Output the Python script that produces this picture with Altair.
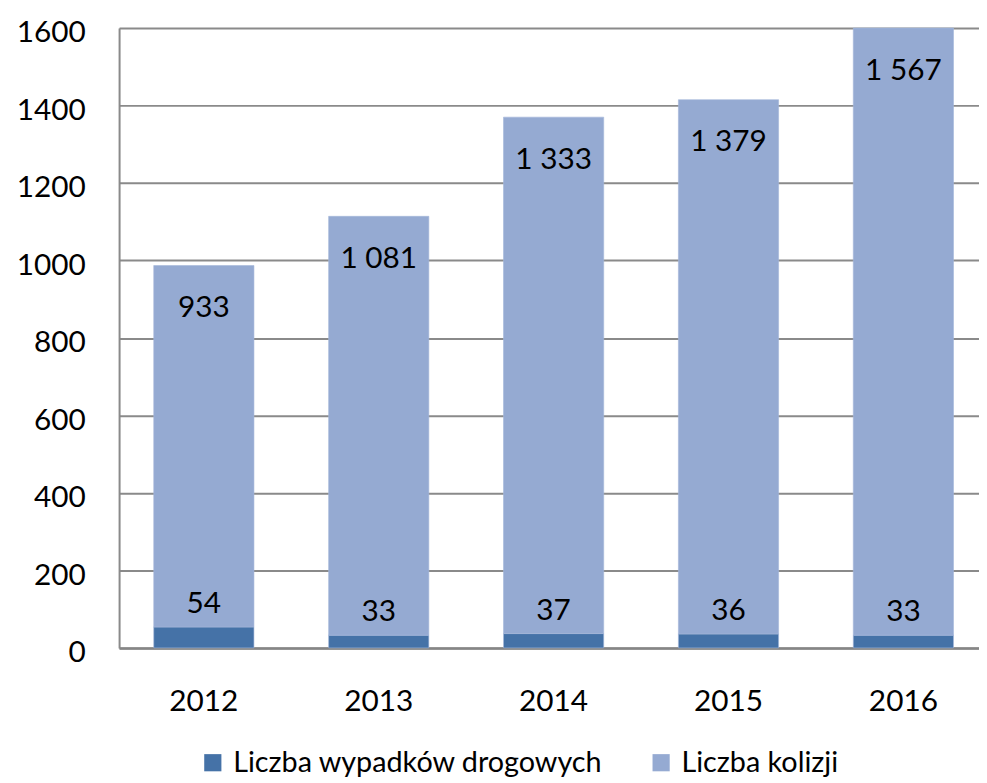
import altair as alt
import pandas as pd

years = ["2012", "2013", "2014", "2015", "2016"]
wypadki = [54, 33, 37, 36, 33]
kolizje = [933, 1081, 1333, 1379, 1567]
series_names = ["Liczba wypadków drogowych", "Liczba kolizji"]
series_colors = ["#4572A7", "#95AAD2"]

FONT = "Lato"
FS = 30


def fmt(v):
    return f"{v:,}".replace(",", " ")


long_rows = []
for y, w, k in zip(years, wypadki, kolizje):
    long_rows.append({"rok": y, "seria": series_names[0], "wartosc": w, "kolejnosc": 0})
    long_rows.append({"rok": y, "seria": series_names[1], "wartosc": k, "kolejnosc": 1})
long_df = pd.DataFrame(long_rows)

wide_df = pd.DataFrame({
    "rok": years,
    "wypadki": wypadki,
    "kolizje": kolizje,
    "suma": [w + k for w, k in zip(wypadki, kolizje)],
    "lab_w": [fmt(v) for v in wypadki],
    "lab_k": [fmt(v) for v in kolizje],
})

xscale = alt.Scale(domain=years, paddingInner=0.427, paddingOuter=0.172, align=0.576)
yscale = alt.Scale(domain=[0, 1600], nice=False)

x_enc = alt.X(
    "rok:N",
    scale=xscale,
    axis=alt.Axis(
        title=None, labelAngle=0, ticks=False, labelPadding=39,
        labelFont=FONT, labelFontSize=FS, labelColor="#000000",
        domainColor="#868686", domainWidth=2.5, grid=False,
    ),
)

bars = alt.Chart(long_df).mark_bar(stroke="#A3B6DA", strokeWidth=0.6).encode(
    x=x_enc,
    y=alt.Y(
        "wartosc:Q",
        stack="zero",
        scale=yscale,
        axis=alt.Axis(
            title=None, values=list(range(0, 1601, 200)), format="d", ticks=False,
            labelPadding=34, labelOffset=5, labelFlush=False, labelOverlap=False,
            labelFont=FONT, labelFontSize=FS,
            labelColor="#000000", grid=True, gridColor="#8A8A8A", gridWidth=2,
            domainColor="#8A8A8A", domainWidth=2,
        ),
    ),
    color=alt.Color(
        "seria:N",
        scale=alt.Scale(domain=series_names, range=series_colors),
        legend=alt.Legend(
            title=None, orient="none", direction="horizontal",
            legendX=80, legendY=726, padding=0,
            symbolType="square", symbolSize=300, symbolStrokeWidth=0,
            symbolOpacity=1,
            labelFont=FONT, labelFontSize=29, labelColor="#000000",
            labelOffset=6, columnPadding=44, labelLimit=600,
        ),
    ),
    order=alt.Order("kolejnosc:Q", sort="ascending"),
)

text_k = alt.Chart(wide_df).mark_text(
    font=FONT, fontSize=FS, color="#000000", baseline="middle", align="center", dy=43
).encode(
    x=alt.X("rok:N", scale=xscale),
    y=alt.Y("suma:Q", scale=yscale),
    text="lab_k:N",
)

text_w = alt.Chart(wide_df).mark_text(
    font=FONT, fontSize=FS, color="#000000", baseline="middle", align="center", dy=-23
).encode(
    x=alt.X("rok:N", scale=xscale),
    y=alt.Y("wypadki:Q", scale=yscale),
    text="lab_w:N",
)

chart = alt.layer(bars, text_k, text_w).properties(
    width=867,
    height=625,
    autosize=alt.AutoSizeParams(type="none"),
    padding={"left": 112, "top": 17, "right": 0, "bottom": 132},
).configure_view(stroke=None).configure(background="#ffffff")

chart.save("out.html", embed_options={"renderer": "svg", "actions": False})
